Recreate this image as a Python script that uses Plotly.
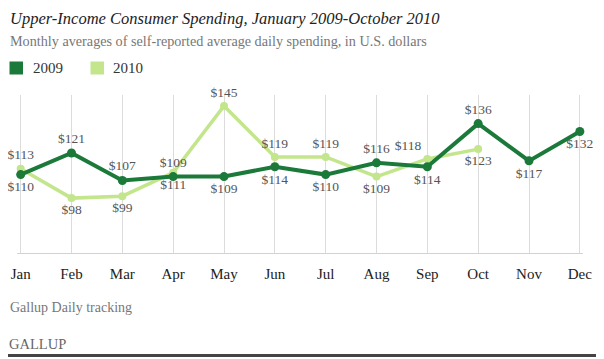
import plotly.graph_objects as go

months = ["Jan", "Feb", "Mar", "Apr", "May", "Jun", "Jul", "Aug", "Sep", "Oct", "Nov", "Dec"]
spend_2009 = [110, 121, 107, 109, 109, 114, 110, 116, 114, 136, 117, 132]
spend_2010 = [113, 98, 99, 111, 145, 119, 119, 109, 118, 123]
series_names = ["2009", "2010"]
pos_2009 = ["bottom center", "top center", "top center", "top center", "bottom center", "bottom center",
            "bottom center", "top center", "bottom center", "top center", "bottom center", "bottom center"]
pos_2010 = ["top center", "bottom center", "bottom center", "bottom center", "top center", "top center",
            "top center", "bottom center", "top left", "bottom center"]

DARK = "#1b7a3a"
LIGHT = "#c3e68c"
SERIF = "Liberation Serif"

x09 = list(range(len(spend_2009)))
x10 = list(range(len(spend_2010)))

fig = go.Figure()
fig.add_trace(go.Scatter(
    x=x10, y=spend_2010, mode="lines+markers+text", name=series_names[1],
    line=dict(color=LIGHT, width=3.5), marker=dict(color=LIGHT, size=8),
    text=[f"${v}" for v in spend_2010], textposition=pos_2010,
    textfont=dict(family=SERIF, size=13.5, color="#555555"), cliponaxis=False))
fig.add_trace(go.Scatter(
    x=x09, y=spend_2009, mode="lines+markers+text", name=series_names[0],
    line=dict(color=DARK, width=4), marker=dict(color=DARK, size=9),
    text=[f"${v}" for v in spend_2009], textposition=pos_2009,
    textfont=dict(family=SERIF, size=13.5, color="#555555"), cliponaxis=False))

# page body has an 8px margin: lay everything out 8px up/left of reference positions
OFF = 8
W, H = 604, 359
L = 10 - OFF
T = 95 - OFF
R = W - (590 - OFF)
B = H - (254 - OFF)
pw = W - L - R
ph = H - T - B

def px(xp):
    return (xp - OFF - L) / pw

def py(yp):
    return (H - B - (yp - OFF)) / ph

fig.update_layout(
    width=W, height=H, margin=dict(l=L, r=R, t=T, b=B, autoexpand=False),
    paper_bgcolor="white", plot_bgcolor="white",
    font=dict(family=SERIF, color="#333333"),
    xaxis=dict(range=[-0.21, 11.2], tickmode="array", tickvals=x09, ticktext=months,
               showgrid=True, gridcolor="#dcdcdc", gridwidth=1, zeroline=False,
               showline=False, ticks="", ticklabelstandoff=9,
               tickfont=dict(family=SERIF, size=15, color="#222222"), fixedrange=True),
    yaxis=dict(range=[69.5, 150.6], visible=False, showgrid=False, fixedrange=True),
    showlegend=False,
)

fig.add_shape(type="line", xref="x", yref="y", x0=-0.07, x1=11.06, y0=69.5, y1=69.5,
              line=dict(color="#d2d2d2", width=2))

# legend (drawn manually at the reference position)
legend_items = [(series_names[0], DARK, 9.5, 30.5), (series_names[1], LIGHT, 90.5, 111)]
for name, col, sx, tx in legend_items:
    fig.add_shape(type="rect", xref="paper", yref="paper", x0=px(sx), x1=px(sx + 13.5),
                  y0=py(74.5), y1=py(61.5), fillcolor=col, line=dict(width=0))
    fig.add_annotation(text=name, x=px(tx), y=py(68), xref="paper", yref="paper",
                       xanchor="left", yanchor="middle", showarrow=False,
                       font=dict(family=SERIF, size=15, color="#333333"))

ann = [
    dict(text="<i>Upper-Income Consumer Spending, January 2009-October 2010</i>", x=px(8.5), y=py(8),
         size=16.5, color="#222222", ya="top"),
    dict(text="Monthly averages of self-reported average daily spending, in U.S. dollars", x=px(8.5), y=py(41),
         size=14.2, color="#777777", ya="middle"),
    dict(text="Gallup Daily tracking", x=px(8.5), y=py(307), size=14, color="#777777", ya="middle"),
    dict(text="GALLUP", x=px(8), y=py(344), size=14.5, color="#666666", ya="middle"),
]
for a in ann:
    fig.add_annotation(text=a["text"], x=a["x"], y=a["y"], xref="paper", yref="paper",
                       xanchor="left", yanchor=a["ya"], showarrow=False, borderpad=0,
                       font=dict(family=SERIF, size=a["size"], color=a["color"]))

# frame shadow
fig.add_shape(type="rect", xref="paper", yref="paper", x0=px(597.5), x1=px(600.5), y0=py(8), y1=py(357),
              fillcolor="#444444", line=dict(width=0))
fig.add_shape(type="line", xref="paper", yref="paper", x0=px(8), x1=px(600.5), y0=py(355.5), y1=py(355.5),
              line=dict(color="#444444", width=3))

fig.write_html("out.html")
